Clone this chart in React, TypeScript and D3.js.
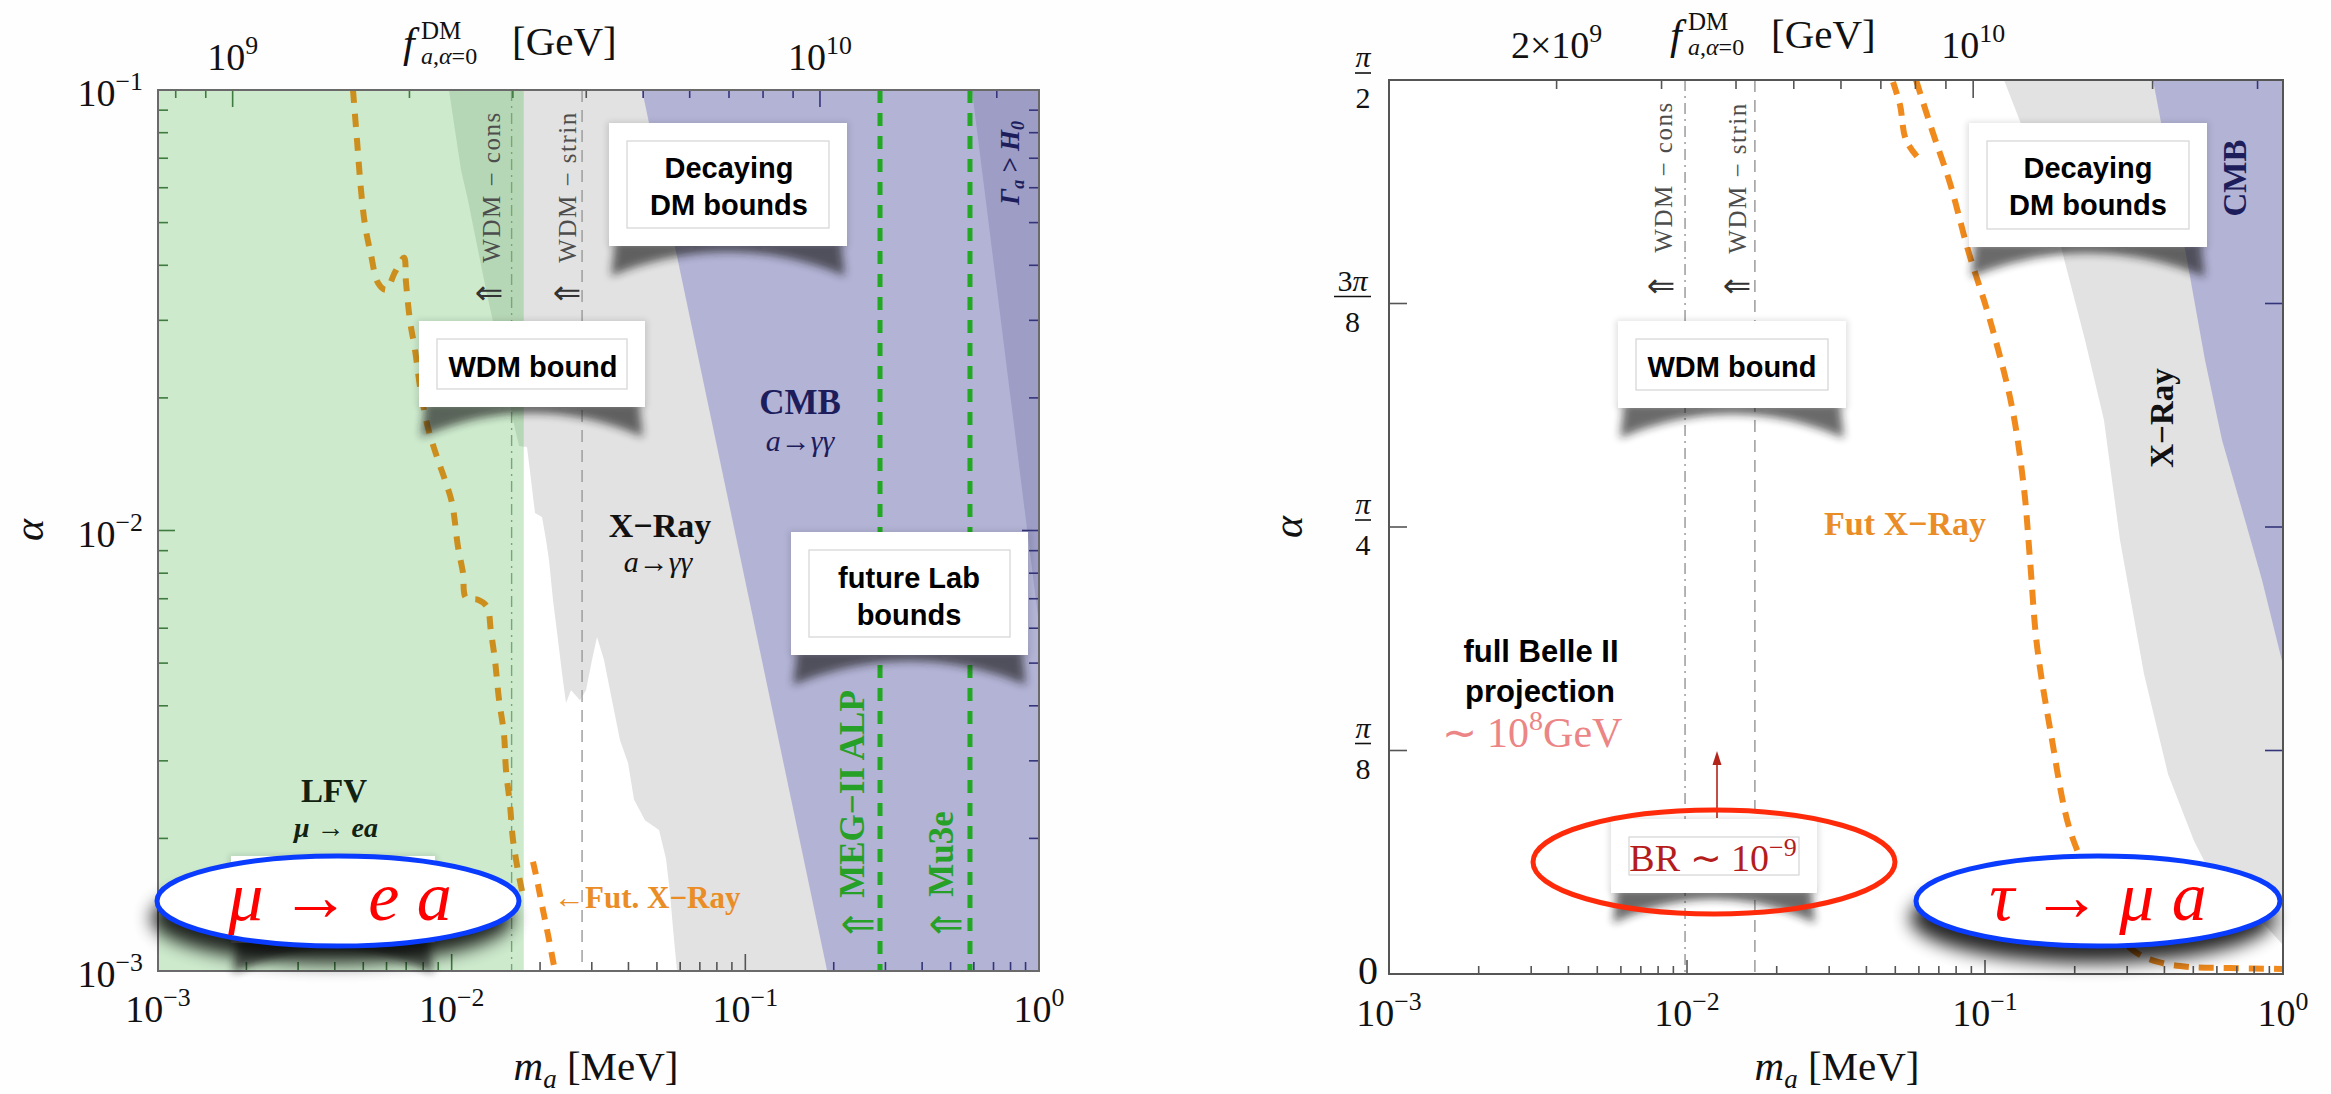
import React from "react";
import * as d3 from "d3";

// ---------- shared axis data ----------
const massDomain: [number, number] = [1e-3, 1]; // m_a [MeV]
const alphaDomainLeft: [number, number] = [1e-3, 1e-1];
const alphaDomainRight: [number, number] = [0, Math.PI / 2];

// f_a (GeV) at m_a = 1 MeV for each panel; f_a grows like sqrt(m_a)
const fAtOneMeVLeft = 2.36e10;
const fAtOneMeVRight = 3.31e10;

const massTickExponents = [-3, -2, -1, 0];
const alphaTickExponentsLeft = [-1, -2, -3];
const fTickLabelsLeft = [
  { value: 1e9, mant: "", exp: "9" },
  { value: 1e10, mant: "", exp: "10" },
];
const fTickLabelsRight = [
  { value: 2e9, mant: "2×", exp: "9" },
  { value: 1e10, mant: "", exp: "10" },
];
const alphaTicksRight = [
  { value: Math.PI / 8, num: "π", den: "8" },
  { value: Math.PI / 4, num: "π", den: "4" },
  { value: (3 * Math.PI) / 8, num: "3π", den: "8" },
  { value: Math.PI / 2, num: "π", den: "2" },
];

// ---------- left panel: mu -> e a ----------
const lfvEdgeMass = 0.0176;
const wdmMassLeft = { cons: 0.016, strin: 0.0278 };
const labBounds = [
  { name: "MEG−II ALP", mass: 0.2875 },
  { name: "Mu3e", mass: 0.582 },
];
// jagged lower-mass edge of the X-ray exclusion (m_a, alpha)
const xrayEdgeLeft: [number, number][] = [
  [0.00979, 0.1], [0.01026, 0.0811], [0.01076, 0.0658], [0.01136, 0.0563],
  [0.0121, 0.0456], [0.01309, 0.0352], [0.01427, 0.0271], [0.01531, 0.0214],
  [0.01618, 0.0178], [0.01696, 0.01555], [0.01805, 0.01547], [0.01863, 0.01302],
  [0.01922, 0.01096], [0.02031, 0.01073], [0.02096, 0.00951], [0.02145, 0.00857],
  [0.02213, 0.00696], [0.02302, 0.00564], [0.02375, 0.00475], [0.02451, 0.00406],
  [0.02549, 0.00434], [0.02735, 0.00412], [0.02867, 0.00434], [0.03005, 0.00508],
  [0.03126, 0.00573], [0.03302, 0.00508], [0.03515, 0.00412], [0.03743, 0.00334],
  [0.03985, 0.00297], [0.04177, 0.00245], [0.04553, 0.0022], [0.05082, 0.00209],
  [0.05368, 0.0018], [0.0554, 0.0015], [0.05671, 0.00125], [0.05852, 0.001],
];
const cmbEdgeLeft: [number, number][] = [[0.0445, 0.1], [0.19, 0.001]];
const lifetimeEdgeLeft: [number, number][] = [[0.591, 0.1], [1, 0.00613]];
const lfvBoundCurve: [number, number][] = [
  [0.004613, 0.1], [0.00476, 0.077], [0.004912, 0.0593], [0.005069, 0.0494],
  [0.005313, 0.0422], [0.005612, 0.0365], [0.005975, 0.0352], [0.006412, 0.0386],
  [0.006881, 0.0416], [0.00699, 0.0366], [0.007214, 0.0299], [0.007503, 0.0257],
  [0.007864, 0.0205], [0.008308, 0.0171], [0.008984, 0.01445], [0.00949, 0.01302],
  [0.01003, 0.01154], [0.01051, 0.00917], [0.01093, 0.00801], [0.01119, 0.00703],
  [0.01229, 0.00696], [0.01319, 0.00671], [0.01361, 0.00588], [0.01404, 0.00508],
  [0.01449, 0.00414], [0.01507, 0.00345], [0.01531, 0.00286], [0.0158, 0.00238],
  [0.01618, 0.00198], [0.01696, 0.00164], [0.01763, 0.00145],
];
const futXrayLeft: [number, number][] = [
  [0.01892, 0.00177], [0.01953, 0.00161], [0.02031, 0.00141], [0.02128, 0.00121], [0.02248, 0.001],
];

// ---------- right panel: tau -> mu a ----------
const wdmMassRight = { cons: 0.00985, strin: 0.0169 };
const xrayEdgeRight: [number, number][] = [
  [0.1158, 1.5708], [0.1472, 1.4302], [0.1799, 1.2774], [0.2166, 1.114],
  [0.2507, 0.9734], [0.2838, 0.7626], [0.3417, 0.5271], [0.4112, 0.3514],
  [0.5028, 0.2337], [0.5733, 0.1757], [0.7173, 0.13], [0.8702, 0.0861], [1, 0.051],
];
const cmbEdgeRight: [number, number][] = [
  [0.3663, 1.5708], [0.4176, 1.4126], [0.4763, 1.2545], [0.5473, 1.0788],
  [0.6242, 0.9382], [0.7455, 0.7977], [0.8503, 0.6923], [1, 0.5429],
];
const futXrayRight: [number, number][] = [
  [0.05868, 1.5708], [0.0669, 1.4776], [0.07628, 1.3898], [0.0877, 1.2721],
  [0.1039, 1.1491], [0.1232, 0.9962], [0.1352, 0.8521], [0.1416, 0.7274],
  [0.1495, 0.5763], [0.1665, 0.4217], [0.1914, 0.2583], [0.2251, 0.1652],
  [0.2627, 0.0861], [0.3162, 0.0404], [0.3806, 0.0211], [0.4874, 0.0123],
  [0.6639, 0.0105], [1, 0.0088],
];
const futXrayRightBranch: [number, number][] = [
  [0.04913, 1.5673], [0.05186, 1.5268], [0.05433, 1.4653], [0.06052, 1.4302],
];

// ---------- layout & style ----------
const L = { x0: 158, x1: 1039, y0: 90, y1: 971 };
const R = { x0: 1389, x1: 2283, y0: 80, y1: 974 };
const SERIF = "'Liberation Serif','Times New Roman',serif";
const SANS = "'Liberation Sans',Arial,sans-serif";
const SYM = "'DejaVu Sans',sans-serif";
const GREEN_BG = "#cdeacd";
const GREEN_DARK_BG = "#b6d7b6";
const GRAY_BG = "#e2e2e2";
const PURPLE = "#b3b3d6";
const PURPLE_DARK = "#9d9dc5";
const NAVY = "#1d1d5c";
const GREEN_TICK = "#3f7a3f";
const NAVY_TICK = "#34347a";
const GRAY_TICK = "#555";
const LAB_GREEN = "#22a822";
const ORANGE_LFV = "#cc8f1e";
const ORANGE = "#f08a1c";

const isDecade = (v: number) => Math.abs(Math.log10(v) - Math.round(Math.log10(v))) < 1e-9;

function Pow({ x, y, mant = "", exp, anchor = "middle", size = 38 }: any) {
  return (
    <text x={x} y={y} textAnchor={anchor} fontFamily={SERIF} fontSize={size} fill="#111">
      {mant}10
      <tspan dy={-size * 0.42} fontSize={size * 0.68}>{exp}</tspan>
    </text>
  );
}

function Callout({ x0, y0, x1, y1, pad = 18, children }: any) {
  const mid = (x0 + x1) / 2;
  const shadow = `M${x0 + 6},${y1 - 4} L${x1 - 6},${y1 - 4} L${x1 - 2},${y1 + 30} Q${mid},${y1 - 18} ${x0 + 2},${y1 + 30} Z`;
  return (
    <g>
      <path d={shadow} fill="#1a1a1a" opacity={0.65} filter="url(#soft)" />
      <rect x={x0 - 2} y={y0 - 1} width={x1 - x0 + 4} height={y1 - y0 + 2} fill="#000" opacity={0.12} filter="url(#halo)" />
      <rect x={x0} y={y0} width={x1 - x0} height={y1 - y0} fill="#fff" />
      {pad > 0 && (
        <rect x={x0 + pad} y={y0 + pad} width={x1 - x0 - 2 * pad} height={y1 - y0 - 2 * pad} fill="none" stroke="#d4d4d4" strokeWidth={1.2} />
      )}
      {children}
    </g>
  );
}

function BoxText({ cx, lines, baselines, size = 29 }: any) {
  return (
    <g>
      {lines.map((t: string, i: number) => (
        <text key={i} x={cx} y={baselines[i]} textAnchor="middle" fontFamily={SANS} fontWeight="bold" fontSize={size} fill="#000">
          {t}
        </text>
      ))}
    </g>
  );
}

function Rot({ x, y, size, children, fill = "#111", weight = "normal", style = "normal", family = SERIF, spacing = 0 }: any) {
  return (
    <text transform={`translate(${x},${y}) rotate(-90)`} textAnchor="middle" dy="0.35em" fontFamily={family}
      fontSize={size} fill={fill} fontWeight={weight} fontStyle={style} letterSpacing={spacing}>
      {children}
    </text>
  );
}

function Arrow({ x, y, color = "#333", size = 34 }: any) {
  return (
    <text x={x} y={y} textAnchor="middle" dy="0.35em" fontFamily={SYM} fontSize={size} fill={color}>⇐</text>
  );
}

export default function App() {
  // scales
  const xL = d3.scaleLog().domain(massDomain).range([L.x0, L.x1]);
  const yL = d3.scaleLog().domain(alphaDomainLeft).range([L.y1, L.y0]);
  const fL = d3.scaleLog()
    .domain([fAtOneMeVLeft * Math.sqrt(massDomain[0]), fAtOneMeVLeft * Math.sqrt(massDomain[1])])
    .range([L.x0, L.x1]);
  const xR = d3.scaleLog().domain(massDomain).range([R.x0, R.x1]);
  const yR = d3.scaleLinear().domain(alphaDomainRight).range([R.y1, R.y0]);
  const fR = d3.scaleLog()
    .domain([fAtOneMeVRight * Math.sqrt(massDomain[0]), fAtOneMeVRight * Math.sqrt(massDomain[1])])
    .range([R.x0, R.x1]);

  const polyL = d3.line<[number, number]>().x((d) => xL(d[0])).y((d) => yL(d[1]));
  const polyR = d3.line<[number, number]>().x((d) => xR(d[0])).y((d) => yR(d[1]));
  const curveL = d3.line<[number, number]>().x((d) => xL(d[0])).y((d) => yL(d[1])).curve(d3.curveCatmullRom.alpha(0.5));
  const curveR = d3.line<[number, number]>().x((d) => xR(d[0])).y((d) => yR(d[1])).curve(d3.curveCatmullRom.alpha(0.5));

  const aMinL = alphaDomainLeft[0], aMaxL = alphaDomainLeft[1];
  const aMaxR = alphaDomainRight[1];

  const xrayPathL = polyL([...xrayEdgeLeft, [1, aMinL], [1, aMaxL]]) + "Z";
  const cmbPathL = polyL([...cmbEdgeLeft, [1, aMinL], [1, aMaxL]]) + "Z";
  const lifePathL = polyL([...lifetimeEdgeLeft, [1, aMaxL]]) + "Z";
  const xrayPathR = polyR([...xrayEdgeRight, [1, aMaxR]]) + "Z";
  const cmbPathR = polyR([...cmbEdgeRight, [1, aMaxR]]) + "Z";

  const lfvX = xL(lfvEdgeMass);

  const bottomTickColorL = (m: number) =>
    m < lfvEdgeMass ? GREEN_TICK : m >= cmbEdgeLeft[1][0] ? NAVY_TICK : GRAY_TICK;
  const topTickColorL = (m: number) =>
    m < lfvEdgeMass ? GREEN_TICK : m >= cmbEdgeLeft[0][0] ? NAVY_TICK : GRAY_TICK;
  const massFromFL = (f: number) => (f / fAtOneMeVLeft) ** 2;
  const massFromFR = (f: number) => (f / fAtOneMeVRight) ** 2;

  const LW = L.x1 - L.x0, LH = L.y1 - L.y0;
  const RW = R.x1 - R.x0, RH = R.y1 - R.y0;

  return (
    <svg width={2331} height={1094} style={{ position: "absolute", left: 0, top: 0, background: "#fff" }}>
      <defs>
        <filter id="soft" x="-20%" y="-80%" width="140%" height="260%">
          <feGaussianBlur stdDeviation="4" />
        </filter>
        <filter id="halo" x="-10%" y="-10%" width="120%" height="120%">
          <feGaussianBlur stdDeviation="3" />
        </filter>
        <filter id="deep" x="-30%" y="-80%" width="160%" height="260%">
          <feGaussianBlur stdDeviation="9" />
        </filter>
        <clipPath id="clipL"><rect x={L.x0} y={L.y0} width={LW} height={LH} /></clipPath>
        <clipPath id="clipLfv"><rect x={L.x0} y={L.y0} width={lfvX - L.x0} height={LH} /></clipPath>
        <clipPath id="clipRest"><rect x={lfvX} y={L.y0} width={L.x1 - lfvX} height={LH} /></clipPath>
        <clipPath id="clipR"><rect x={R.x0} y={R.y0} width={RW} height={RH} /></clipPath>
      </defs>

      <rect x={0} y={0} width={2331} height={1094} fill="#fefefe" />

      {/* ================= LEFT PANEL ================= */}
      <g clipPath="url(#clipL)">
        <rect x={L.x0} y={L.y0} width={LW} height={LH} fill="#fff" />
        <path d={xrayPathL} fill={GRAY_BG} clipPath="url(#clipRest)" />
        <rect x={L.x0} y={L.y0} width={lfvX - L.x0} height={LH} fill={GREEN_BG} />
        <path d={xrayPathL} fill={GREEN_DARK_BG} clipPath="url(#clipLfv)" />
        <path d={cmbPathL} fill={PURPLE} />
        <path d={lifePathL} fill={PURPLE_DARK} />

        {/* warm dark matter bounds */}
        <line x1={xL(wdmMassLeft.cons)} x2={xL(wdmMassLeft.cons)} y1={L.y0} y2={L.y1}
          stroke="#74a874" strokeWidth={1.4} strokeDasharray="11 5 2 5" />
        <line x1={xL(wdmMassLeft.strin)} x2={xL(wdmMassLeft.strin)} y1={L.y0} y2={L.y1}
          stroke="#9a9a9a" strokeWidth={1.4} strokeDasharray="12 8" />

        {/* future lab sensitivities */}
        {labBounds.map((b) => (
          <line key={b.name} x1={xL(b.mass)} x2={xL(b.mass)} y1={L.y0} y2={L.y1}
            stroke={LAB_GREEN} strokeWidth={5} strokeDasharray="13 10" />
        ))}

        <path d={curveL(lfvBoundCurve) ?? ""} fill="none" stroke={ORANGE_LFV} strokeWidth={6} strokeDasharray="13 11" />
        <path d={curveL(futXrayLeft) ?? ""} fill="none" stroke={ORANGE} strokeWidth={6} strokeDasharray="13 10" />
      </g>

      {/* left frame & ticks */}
      {xL.ticks().map((t, i) => {
        const x = xL(t);
        const len = isDecade(t) ? 17 : 9;
        return <line key={"lb" + i} x1={x} x2={x} y1={L.y1} y2={L.y1 - len} stroke={bottomTickColorL(t)} strokeWidth={1.6} />;
      })}
      {yL.ticks().map((t, i) => {
        const y = yL(t);
        const len = isDecade(t) ? 17 : 10;
        return (
          <g key={"ly" + i}>
            <line x1={L.x0} x2={L.x0 + len} y1={y} y2={y} stroke={GREEN_TICK} strokeWidth={1.6} />
            <line x1={L.x1} x2={L.x1 - len} y1={y} y2={y} stroke={NAVY_TICK} strokeWidth={1.6} />
          </g>
        );
      })}
      {fL.ticks().map((t, i) => {
        const x = fL(t);
        const len = isDecade(t) ? 17 : 8;
        return <line key={"lf" + i} x1={x} x2={x} y1={L.y0} y2={L.y0 + len} stroke={topTickColorL(massFromFL(t))} strokeWidth={1.6} />;
      })}
      <rect x={L.x0} y={L.y0} width={LW} height={LH} fill="none" stroke="#6a6a6a" strokeWidth={2} />

      {/* left axis labels */}
      {massTickExponents.map((e) => (
        <Pow key={"lmx" + e} x={xL(10 ** e)} y={1022} exp={e < 0 ? "−" + -e : String(e)} />
      ))}
      {alphaTickExponentsLeft.map((e) => (
        <Pow key={"lay" + e} x={143} y={yL(10 ** e) + 16} exp={"−" + -e} anchor="end" />
      ))}
      {fTickLabelsLeft.map((t) => (
        <Pow key={"lft" + t.value} x={fL(t.value)} y={70} mant={t.mant} exp={t.exp} />
      ))}
      <text x={403} y={57} fontFamily={SERIF} fontSize={42} fontStyle="italic" fill="#111">f</text>
      <text x={421} y={39} fontFamily={SERIF} fontSize={25} fill="#111">DM</text>
      <text x={421} y={64} fontFamily={SERIF} fontSize={24} fill="#111">
        <tspan fontStyle="italic">a</tspan>,<tspan fontStyle="italic">α</tspan>=0
      </text>
      <text x={512} y={55} fontFamily={SERIF} fontSize={41} fill="#111">[GeV]</text>
      <text transform="translate(43,530) rotate(-90)" textAnchor="middle" fontFamily={SERIF} fontSize={42} fontStyle="italic" fill="#111">α</text>
      <text x={596} y={1080} textAnchor="middle" fontFamily={SERIF} fontSize={41} fill="#111">
        <tspan fontStyle="italic">m</tspan>
        <tspan fontStyle="italic" fontSize={27} dy={8}>a</tspan>
        <tspan dy={-8}> [MeV]</tspan>
      </text>

      {/* left region labels */}
      <Rot x={491} y={187} size={25} fill="#4d4d4d" spacing={1.5}>WDM − cons</Rot>
      <Rot x={567} y={187} size={25} fill="#4d4d4d" spacing={1.5}>WDM − strin</Rot>
      <Arrow x={489} y={292} />
      <Arrow x={567} y={292} />
      <Rot x={1010} y={163} size={27} fill={NAVY} weight="bold" style="italic">
        Γ<tspan fontSize={18} dy={5}>a</tspan><tspan dy={-5}> &gt; H</tspan><tspan fontSize={18} dy={5}>0</tspan>
      </Rot>
      <text x={800} y={414} textAnchor="middle" fontFamily={SERIF} fontSize={35} fontWeight="bold" fill={NAVY}>CMB</text>
      <text x={800} y={451} textAnchor="middle" fontFamily={SERIF} fontSize={30} fontStyle="italic" fill={NAVY}>a→γγ</text>
      <text x={660} y={537} textAnchor="middle" fontFamily={SERIF} fontSize={34} fontWeight="bold" fill="#111">X−Ray</text>
      <text x={658} y={572} textAnchor="middle" fontFamily={SERIF} fontSize={30} fontStyle="italic" fill="#111">a→γγ</text>
      <text x={334} y={802} textAnchor="middle" fontFamily={SERIF} fontSize={33} fontWeight="bold" fill="#112211">LFV</text>
      <text x={336} y={837} textAnchor="middle" fontFamily={SERIF} fontSize={28} fontWeight="bold" fontStyle="italic" fill="#112211">μ → ea</text>
      <text x={554} y={908} fontFamily={SERIF} fontSize={31} fontWeight="bold" fill="#ea8d26">←Fut. X−Ray</text>
      <Rot x={852} y={794} size={35} fill="#27a027" weight="bold">MEG−II ALP</Rot>
      <Rot x={941} y={854} size={35} fill="#27a027" weight="bold">Mu3e</Rot>
      <Arrow x={858} y={923} color="#27a027" size={42} />
      <Arrow x={946} y={923} color="#27a027" size={42} />

      <Callout x0={609} y0={123} x1={847} y1={246}>
        <BoxText cx={729} lines={["Decaying", "DM bounds"]} baselines={[178, 215]} />
      </Callout>
      <Callout x0={419} y0={321} x1={645} y1={407}>
        <BoxText cx={533} lines={["WDM bound"]} baselines={[377]} />
      </Callout>
      <Callout x0={791} y0={532} x1={1028} y1={655}>
        <BoxText cx={909} lines={["future Lab", "bounds"]} baselines={[588, 625]} />
      </Callout>

      {/* mu -> e a badge */}
      <Callout x0={231} y0={856} x1={435} y1={943} pad={0} />
      <ellipse cx={332} cy={918} rx={181} ry={45} fill="#000" opacity={0.85} filter="url(#deep)" />
      <ellipse cx={338} cy={901} rx={181} ry={45} fill="#fff" stroke="#0a3cff" strokeWidth={5} />
      <text x={340} y={920} textAnchor="middle" fontFamily={SERIF} fontSize={70} fontStyle="italic" fill="#ff0000">μ → e a</text>

      {/* ================= RIGHT PANEL ================= */}
      <g clipPath="url(#clipR)">
        <rect x={R.x0} y={R.y0} width={RW} height={RH} fill="#fff" />
        <path d={xrayPathR} fill={GRAY_BG} />
        <path d={cmbPathR} fill={PURPLE} />
        <line x1={xR(wdmMassRight.cons)} x2={xR(wdmMassRight.cons)} y1={R.y0} y2={R.y1}
          stroke="#8c8c8c" strokeWidth={1.3} strokeDasharray="11 5 2 5" />
        <line x1={xR(wdmMassRight.strin)} x2={xR(wdmMassRight.strin)} y1={R.y0} y2={R.y1}
          stroke="#8c8c8c" strokeWidth={1.3} strokeDasharray="12 8" />
        <path d={curveR(futXrayRight) ?? ""} fill="none" stroke={ORANGE} strokeWidth={6} strokeDasharray="15 10" />
        <path d={curveR(futXrayRightBranch) ?? ""} fill="none" stroke={ORANGE} strokeWidth={6} strokeDasharray="13 9" />
      </g>

      {xR.ticks().map((t, i) => {
        const x = xR(t);
        const len = isDecade(t) ? 14 : 8;
        return <line key={"rb" + i} x1={x} x2={x} y1={R.y1} y2={R.y1 - len} stroke={GRAY_TICK} strokeWidth={1.6} />;
      })}
      {alphaTicksRight.slice(0, 3).map((t, i) => {
        const y = yR(t.value);
        return (
          <g key={"ry" + i}>
            <line x1={R.x0} x2={R.x0 + 18} y1={y} y2={y} stroke={GRAY_TICK} strokeWidth={1.6} />
            <line x1={R.x1} x2={R.x1 - 18} y1={y} y2={y} stroke={NAVY_TICK} strokeWidth={1.6} />
          </g>
        );
      })}
      {fR.ticks().map((t, i) => {
        const x = fR(t);
        const len = isDecade(t) ? 18 : 9;
        const col = massFromFR(t) >= cmbEdgeRight[0][0] ? NAVY_TICK : GRAY_TICK;
        return <line key={"rf" + i} x1={x} x2={x} y1={R.y0} y2={R.y0 + len} stroke={col} strokeWidth={1.6} />;
      })}
      <rect x={R.x0} y={R.y0} width={RW} height={RH} fill="none" stroke="#555" strokeWidth={2} />

      {massTickExponents.map((e) => (
        <Pow key={"rmx" + e} x={xR(10 ** e)} y={1026} exp={e < 0 ? "−" + -e : String(e)} />
      ))}
      {alphaTicksRight.map((t) => {
        const y = yR(t.value);
        const barR = 1371;
        const bw = t.num.length > 1 ? 37 : 16;
        const cx = barR - bw / 2;
        return (
          <g key={"rfrac" + t.den + t.num}>
            <text x={cx} y={y - 13} textAnchor="middle" fontFamily={SERIF} fontSize={30} fill="#111">
              {t.num.length > 1 ? <>{t.num[0]}<tspan fontStyle="italic">{t.num.slice(1)}</tspan></> : <tspan fontStyle="italic">{t.num}</tspan>}
            </text>
            <line x1={barR - bw} x2={barR} y1={y - 7} y2={y - 7} stroke="#111" strokeWidth={1.6} />
            <text x={cx} y={y + 28} textAnchor="middle" fontFamily={SERIF} fontSize={30} fill="#111">{t.den}</text>
          </g>
        );
      })}
      <text x={1368} y={yR(0) + 10} textAnchor="middle" fontFamily={SERIF} fontSize={40} fill="#111">0</text>
      {fTickLabelsRight.map((t) => (
        <Pow key={"rft" + t.value} x={fR(t.value)} y={58} mant={t.mant} exp={t.exp} />
      ))}
      <text x={1670} y={49} fontFamily={SERIF} fontSize={42} fontStyle="italic" fill="#111">f</text>
      <text x={1688} y={30} fontFamily={SERIF} fontSize={25} fill="#111">DM</text>
      <text x={1688} y={55} fontFamily={SERIF} fontSize={24} fill="#111">
        <tspan fontStyle="italic">a</tspan>,<tspan fontStyle="italic">α</tspan>=0
      </text>
      <text x={1771} y={48} fontFamily={SERIF} fontSize={41} fill="#111">[GeV]</text>
      <text transform="translate(1302,527) rotate(-90)" textAnchor="middle" fontFamily={SERIF} fontSize={42} fontStyle="italic" fill="#111">α</text>
      <text x={1837} y={1080} textAnchor="middle" fontFamily={SERIF} fontSize={41} fill="#111">
        <tspan fontStyle="italic">m</tspan>
        <tspan fontStyle="italic" fontSize={27} dy={8}>a</tspan>
        <tspan dy={-8}> [MeV]</tspan>
      </text>

      <Rot x={1663} y={177} size={25} fill="#4d4d4d" spacing={1.5}>WDM − cons</Rot>
      <Rot x={1737} y={178} size={25} fill="#4d4d4d" spacing={1.5}>WDM − strin</Rot>
      <Arrow x={1661} y={285} />
      <Arrow x={1737} y={285} />
      <Rot x={2234} y={178} size={33} fill={NAVY} weight="bold">CMB</Rot>
      <Rot x={2161} y={418} size={33} fill="#111" weight="bold">X−Ray</Rot>
      <text x={1824} y={535} fontFamily={SERIF} fontSize={34} fontWeight="bold" fill="#ea8d26">Fut X−Ray</text>

      <text x={1541} y={662} textAnchor="middle" fontFamily={SANS} fontWeight="bold" fontSize={31} fill="#000">full Belle II</text>
      <text x={1540} y={702} textAnchor="middle" fontFamily={SANS} fontWeight="bold" fontSize={31} fill="#000">projection</text>
      <text x={1532} y={747} textAnchor="middle" fontFamily={SERIF} fontSize={42} fill="#ec8585">
        ∼ 10<tspan dy={-17} fontSize={28}>8</tspan><tspan dy={17}>GeV</tspan>
      </text>

      <Callout x0={1969} y0={123} x1={2207} y1={247}>
        <BoxText cx={2088} lines={["Decaying", "DM bounds"]} baselines={[178, 215]} />
      </Callout>
      <Callout x0={1618} y0={321} x1={1846} y1={408}>
        <BoxText cx={1732} lines={["WDM bound"]} baselines={[377]} />
      </Callout>

      {/* BR callout with arrow */}
      <line x1={1717} x2={1717} y1={818} y2={762} stroke="#b3241a" strokeWidth={1.6} />
      <path d="M1717,751 L1712.5,765 L1721.5,765 Z" fill="#b3241a" />
      <Callout x0={1611} y0={819} x1={1817} y1={893}>
        <text x={1713} y={871} textAnchor="middle" fontFamily={SERIF} fontSize={38} fill="#b51c1c">
          BR ∼ 10<tspan dy={-15} fontSize={26}>−9</tspan>
        </text>
      </Callout>
      <ellipse cx={1714} cy={862} rx={181} ry={52} fill="none" stroke="#ff2a0a" strokeWidth={5} />

      {/* tau -> mu a badge */}
      <ellipse cx={2092} cy={918} rx={182} ry={45} fill="#000" opacity={0.85} filter="url(#deep)" />
      <ellipse cx={2098} cy={901} rx={182} ry={45} fill="#fff" stroke="#0a3cff" strokeWidth={5} />
      <text x={2098} y={920} textAnchor="middle" fontFamily={SERIF} fontSize={70} fontStyle="italic" fill="#ff0000">τ → μ a</text>
    </svg>
  );
}
